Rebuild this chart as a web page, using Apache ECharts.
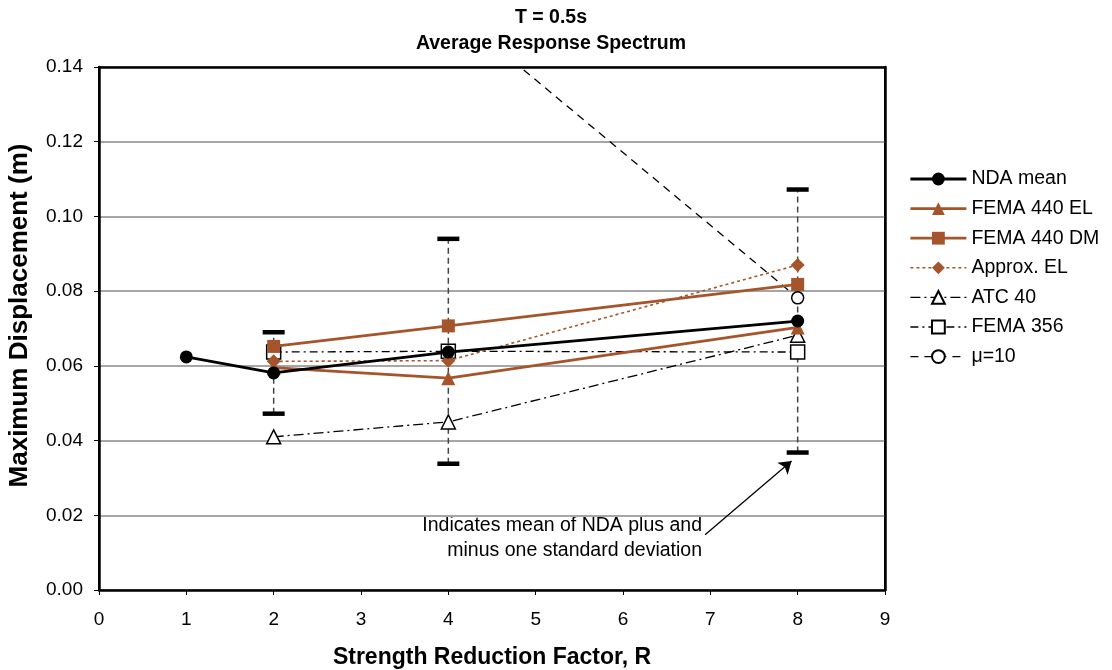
<!DOCTYPE html>
<html><head><meta charset="utf-8">
<script src="https://cdn.jsdelivr.net/npm/echarts@6/dist/echarts.min.js"></script>
<style>html,body{margin:0;padding:0;background:#fff}#c{width:1112px;height:670px}</style>
</head><body><div id="c"></div>
<script>
const xR = [1, 2, 4, 8];
const ndaMean = [0.0624, 0.0581, 0.0637, 0.0720];
const fema440EL = [null, 0.0595, 0.0567, 0.0703];
const fema440DM = [null, 0.0652, 0.0707, 0.0818];
const approxEL = [null, 0.0612, 0.0614, 0.0870];
const atc40 = [null, 0.0410, 0.0450, 0.0682];
const fema356 = [null, 0.0637, 0.0639, 0.0637];
const mu10X = [4, 8];
const mu10 = [0.1560, 0.0782];
const errX = [2, 4, 8];
const errHi = [0.0690, 0.0940, 0.1072];
const errLo = [0.0472, 0.0338, 0.0368];
const brown = '#A5552B';
const font = '"Liberation Sans", Arial, sans-serif';

function pairs(xs, ys){ const o=[]; xs.forEach((x,i)=>{ if(ys[i]!=null) o.push([x, ys[i]]); }); return o; }

const chart = echarts.init(document.getElementById('c'), null, {renderer:'canvas'});
chart.setOption({
  animation:false,
  textStyle:{fontFamily:font, color:'#000'},
  title:{text:'T = 0.5s\nAverage Response Spectrum', left:546, top:0, textAlign:'center',
    textStyle:{fontSize:19.5, fontWeight:'bold', lineHeight:26, color:'#000', fontFamily:font}},
  grid:{left:99, right:227, top:67, bottom:80, show:true, borderColor:'#000', borderWidth:2, backgroundColor:'#fff',
    outerBoundsMode:'none', containLabel:false},
  xAxis:[{type:'value', min:0, max:9, interval:1,
    name:'Strength Reduction Factor, R', nameLocation:'middle', nameGap:56,
    nameTextStyle:{fontSize:23, fontWeight:'bold', color:'#000', fontFamily:font},
    axisLine:{show:true, lineStyle:{color:'#000', width:2.5}},
    axisTick:{show:true, inside:false, length:5, lineStyle:{color:'#000'}},
    axisLabel:{fontSize:19, color:'#000', margin:20},
    splitLine:{show:false}},
   {type:'value', position:'top', min:0, max:9, interval:1,
    axisLine:{show:true, onZero:false, lineStyle:{color:'#000', width:2.5}},
    axisTick:{show:false}, axisLabel:{show:false}, splitLine:{show:false}}],
  yAxis:[{type:'value', min:0, max:0.14, interval:0.02,
    name:'Maximum Displacement (m)', nameLocation:'middle', nameGap:66, nameRotate:90,
    nameTextStyle:{fontSize:26, fontWeight:'bold', color:'#000', fontFamily:font, padding:[0,0,0,26]},
    axisLine:{show:true, lineStyle:{color:'#000', width:2.5}},
    axisTick:{show:true, inside:false, length:5, lineStyle:{color:'#000'}},
    axisLabel:{fontSize:19, color:'#000', margin:16, formatter:v=>v.toFixed(2)},
    splitLine:{show:true, lineStyle:{color:'#A6A6A6', width:2}}},
   {type:'value', position:'right', min:0, max:0.14, interval:0.02,
    axisLine:{show:true, onZero:false, lineStyle:{color:'#000', width:2.5}},
    axisTick:{show:false}, axisLabel:{show:false}, splitLine:{show:false}}],
  legend:{orient:'vertical', left:909, top:169, padding:0, itemWidth:56, itemHeight:16, itemGap:9.6,
    textStyle:{fontSize:19.5, color:'#000', fontFamily:font},
    data:[
      {name:'NDA mean', lineStyle:{width:2.8}},
      {name:'FEMA 440 EL', lineStyle:{width:2.8}},
      {name:'FEMA 440 DM', lineStyle:{width:2.8}},
      {name:'Approx. EL', lineStyle:{width:1.6}},
      {name:'ATC 40', lineStyle:{width:1.4}},
      {name:'FEMA 356', lineStyle:{width:1.4}},
      {name:'\u03bc=10', lineStyle:{width:1.4}}]},
  graphic:[{type:'text', x:702, y:513,
    style:{text:'Indicates mean of NDA plus and\nminus one standard deviation', font:'19.5px '+font, fill:'#000', textAlign:'right', lineHeight:25}}],
  series:[
    {type:'custom', name:'err', z:1, silent:true,
      data: errX.map((x,i)=>[x, errLo[i], errHi[i]]),
      renderItem:function(params, api){
        const lo = api.coord([api.value(0), api.value(1)]);
        const hi = api.coord([api.value(0), api.value(2)]);
        const w = 11;
        return {type:'group', children:[
          {type:'line', shape:{x1:lo[0], y1:lo[1], x2:hi[0], y2:hi[1]}, style:{stroke:'#444', lineWidth:1.5, lineDash:[6,4]}},
          {type:'line', shape:{x1:lo[0]-w, y1:lo[1], x2:lo[0]+w, y2:lo[1]}, style:{stroke:'#000', lineWidth:4.5}},
          {type:'line', shape:{x1:hi[0]-w, y1:hi[1], x2:hi[0]+w, y2:hi[1]}, style:{stroke:'#000', lineWidth:4.5}}
        ]};
      }},
    {type:'line', name:'\u03bc=10', z:2, data:pairs(mu10X, mu10), clip:true,
      symbol:'circle', symbolSize:12,
      lineStyle:{color:'#000', width:1.3, type:[8,6]}, itemStyle:{color:'#fff', borderColor:'#000', borderWidth:1.5}},
    {type:'line', name:'FEMA 356', z:3, data:pairs(xR, fema356),
      symbol:'rect', symbolSize:14,
      lineStyle:{color:'#000', width:1.3, type:[8,4,2,4]}, itemStyle:{color:'#fff', borderColor:'#000', borderWidth:1.5}},
    {type:'line', name:'ATC 40', z:3, data:pairs(xR, atc40),
      symbol:'triangle', symbolSize:14,
      lineStyle:{color:'#000', width:1.3, type:[10,4,2,4]}, itemStyle:{color:'#fff', borderColor:'#000', borderWidth:1.5}},
    {type:'line', name:'Approx. EL', z:4, data:pairs(xR, approxEL),
      symbol:'diamond', symbolSize:14,
      lineStyle:{color:brown, width:1.6, type:[3,3]}, itemStyle:{color:brown}},
    {type:'line', name:'FEMA 440 DM', z:5, data:pairs(xR, fema440DM),
      symbol:'rect', symbolSize:13,
      lineStyle:{color:brown, width:2.8}, itemStyle:{color:brown}},
    {type:'line', name:'FEMA 440 EL', z:5, data:pairs(xR, fema440EL),
      symbol:'triangle', symbolSize:14,
      lineStyle:{color:brown, width:2.8}, itemStyle:{color:brown}},
    {type:'line', name:'NDA mean', z:6, data:pairs(xR, ndaMean),
      symbol:'circle', symbolSize:13,
      lineStyle:{color:'#000', width:2.8}, itemStyle:{color:'#000'},
      markLine:{silent:true, symbol:['none','arrow'], symbolSize:12,
        lineStyle:{color:'#000', width:1.3, type:'solid'}, label:{show:false},
        data:[[{coord:[6.94, 0.0148]}, {coord:[7.93, 0.0345]}]]}}
  ]
});
</script></body></html>
